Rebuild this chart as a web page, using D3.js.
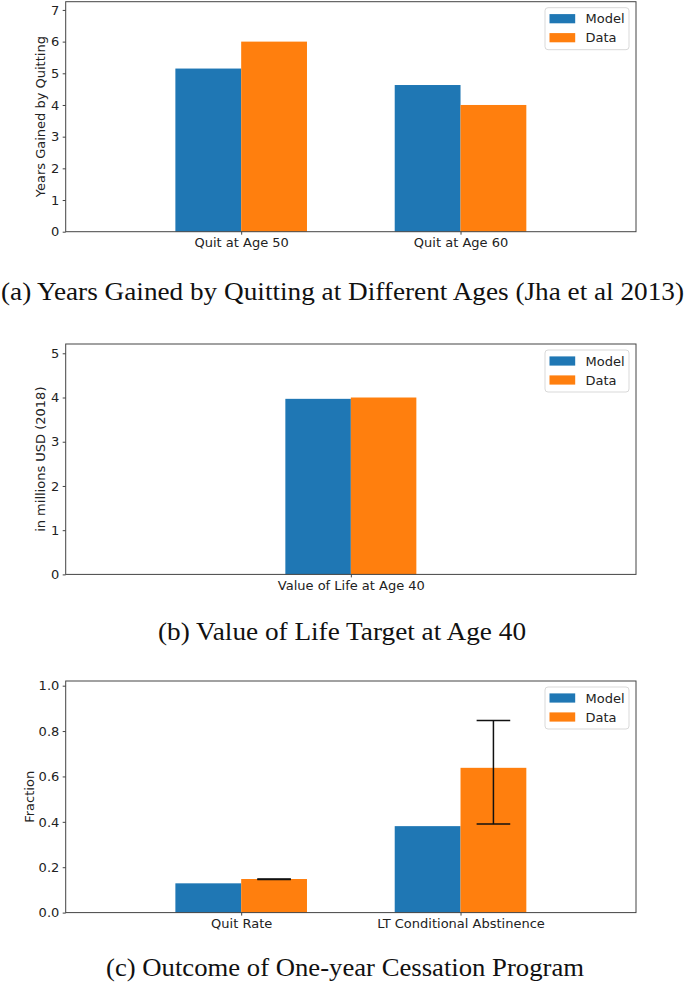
<!DOCTYPE html>
<html>
<head>
<meta charset="utf-8">
<script src="https://cdn.jsdelivr.net/npm/d3@7"></script>
<style>
  html, body { margin: 0; padding: 0; background: #fff; }
  svg { display: block; }
  .tick text { font-family: "DejaVu Sans", sans-serif; font-size: 13px; fill: #222; }
</style>
</head>
<body>
<svg id="fig" width="685" height="983"></svg>
<script>
// ---------- Data ----------
const seriesNames = ["Model", "Data"];
const seriesColors = ["#1f77b4", "#ff7f0e"];

// Panel (a)
const catsA = ["Quit at Age 50", "Quit at Age 60"];
const modelA = [5.15, 4.63];
const dataA = [6.0, 4.0];
const yTicksA = [0, 1, 2, 3, 4, 5, 6, 7];

// Panel (b)
const catsB = ["Value of Life at Age 40"];
const modelB = [3.97];
const dataB = [4.0];
const yTicksB = [0, 1, 2, 3, 4, 5];

// Panel (c)
const catsC = ["Quit Rate", "LT Conditional Abstinence"];
const modelC = [0.129, 0.381];
const dataC = [0.148, 0.638];
const errLowC = [0.146, 0.39];
const errHighC = [0.148, 0.847];
const yTicksC = [0, 0.2, 0.4, 0.6, 0.8, 1.0];

const captions = [
  "(a) Years Gained by Quitting at Different Ages (Jha et al 2013)",
  "(b) Value of Life Target at Age 40",
  "(c) Outcome of One-year Cessation Program"
];

// ---------- Layout ----------
const svg = d3.select("#fig");
const left = 65.7, right = 636;
const barW = 0.3;

const panels = [
  { cats: catsA, model: modelA, data: dataA, ticks: yTicksA, fmt: d3.format("d"),
    ymax: 7.26, xdom: [-0.8, 1.8], top: 1.7, bottom: 231.7,
    ylabel: "Years Gained by Quitting", ylx: 40,
    cap: captions[0], capY: 300, capX0: 1, capX1: 684 },
  { cats: catsB, model: modelB, data: dataB, ticks: yTicksB, fmt: d3.format("d"),
    ymax: 5.21, xdom: [-1.306, 1.306], top: 344, bottom: 574.4,
    ylabel: "in millions USD (2018)", ylx: 40.5,
    cap: captions[1], capY: 640, capX0: 158, capX1: 526 },
  { cats: catsC, model: modelC, data: dataC, ticks: yTicksC, fmt: d3.format(".1f"),
    ymax: 1.0206, xdom: [-0.8, 1.8], top: 681, bottom: 912.6,
    ylabel: "Fraction", ylx: 29.3,
    errLow: errLowC, errHigh: errHighC,
    cap: captions[2], capY: 976, capX0: 106, capX1: 584 }
];

panels.forEach(p => {
  const x = d3.scaleLinear().domain(p.xdom).range([left, right]);
  const y = d3.scaleLinear().domain([0, p.ymax]).range([p.bottom, p.top]);
  const g = svg.append("g");

  // bars
  const series = [p.model, p.data];
  series.forEach((vals, si) => {
    g.selectAll(null).data(vals).enter().append("rect")
      .attr("x", (d, i) => x(i - barW + si * barW))
      .attr("width", x(barW) - x(0))
      .attr("y", d => y(d))
      .attr("height", d => y(0) - y(d))
      .attr("fill", seriesColors[si]);
  });

  // error bars
  if (p.errLow) {
    const cap = 16.8;
    p.errLow.forEach((lo, i) => {
      const cx = x(i + barW / 2);
      const hi = p.errHigh[i];
      const eg = g.append("g").attr("stroke", "#111").attr("stroke-width", 1.5);
      eg.append("line").attr("x1", cx).attr("x2", cx).attr("y1", y(lo)).attr("y2", y(hi));
      eg.append("line").attr("x1", cx - cap).attr("x2", cx + cap).attr("y1", y(lo)).attr("y2", y(lo));
      eg.append("line").attr("x1", cx - cap).attr("x2", cx + cap).attr("y1", y(hi)).attr("y2", y(hi));
    });
  }

  // frame
  g.append("rect")
    .attr("x", left).attr("y", p.top)
    .attr("width", right - left).attr("height", p.bottom - p.top)
    .attr("fill", "none").attr("stroke", "#444").attr("stroke-width", 1);

  // axes
  const yAxis = d3.axisLeft(y).tickValues(p.ticks).tickFormat(p.fmt)
    .tickSize(3).tickPadding(3.4);
  const ya = g.append("g").attr("transform", `translate(${left},0)`).call(yAxis);
  ya.select(".domain").remove();
  ya.selectAll(".tick line").attr("stroke", "#444");

  const xAxis = d3.axisBottom(x).tickValues(p.cats.map((c, i) => i))
    .tickFormat(i => p.cats[i]).tickSize(3).tickPadding(3.5);
  const xa = g.append("g").attr("transform", `translate(0,${p.bottom})`).call(xAxis);
  xa.select(".domain").remove();
  xa.selectAll(".tick line").attr("stroke", "#444");

  // y label
  g.append("text")
    .attr("transform", `translate(${p.ylx},${(p.top + p.bottom) / 2}) rotate(-90)`)
    .attr("text-anchor", "middle")
    .attr("dominant-baseline", "central")
    .attr("font-family", "DejaVu Sans, sans-serif")
    .attr("font-size", 13)
    .attr("fill", "#222")
    .text(p.ylabel);

  // legend
  const lx = 545, ly = p.top + 6;
  const lg = g.append("g");
  lg.append("rect").attr("x", lx).attr("y", ly).attr("width", 84).attr("height", 42)
    .attr("rx", 3).attr("fill", "#fff").attr("stroke", "#d9d9d9").attr("stroke-width", 1);
  seriesNames.forEach((nm, si) => {
    const cy = ly + 11 + si * 19;
    lg.append("rect").attr("x", lx + 4.5).attr("y", cy - 4.6)
      .attr("width", 25.7).attr("height", 9.2).attr("fill", seriesColors[si]);
    lg.append("text").attr("x", lx + 40.5).attr("y", cy)
      .attr("dominant-baseline", "central")
      .attr("font-family", "DejaVu Sans, sans-serif").attr("font-size", 13)
      .attr("fill", "#222").text(nm);
  });

  // caption
  svg.append("text")
    .attr("x", p.capX0).attr("y", p.capY)
    .attr("textLength", p.capX1 - p.capX0)
    .attr("lengthAdjust", "spacingAndGlyphs")
    .attr("font-family", "Liberation Serif, serif")
    .attr("font-size", 25)
    .attr("fill", "#111")
    .text(p.cap);
});
</script>
</body>
</html>
